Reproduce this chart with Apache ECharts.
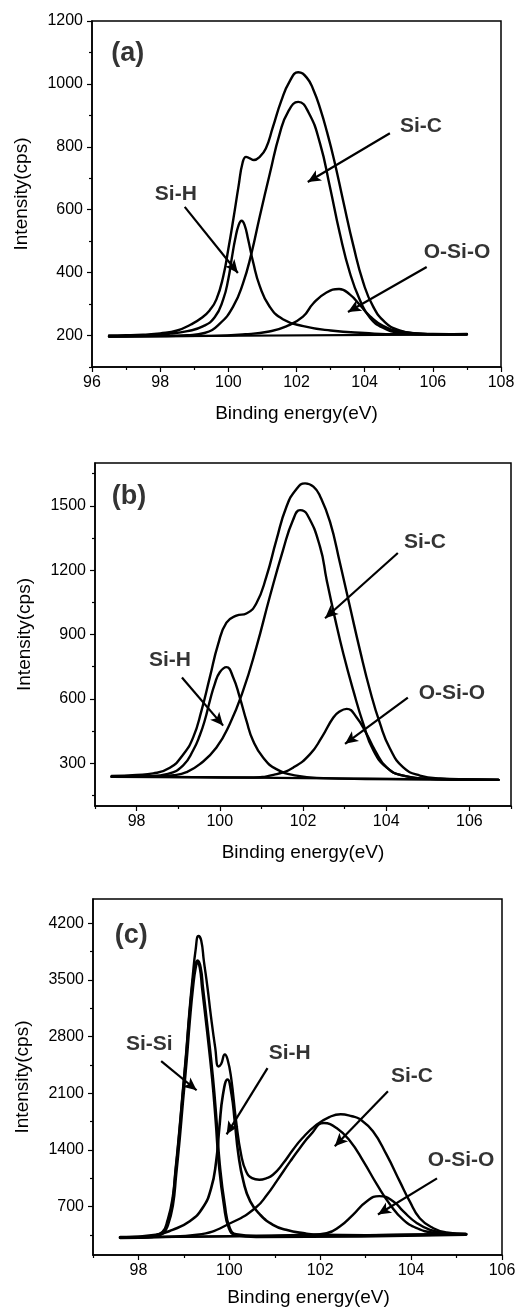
<!DOCTYPE html>
<html>
<head>
<meta charset="utf-8">
<script src="https://cdn.jsdelivr.net/npm/echarts@6/dist/echarts.min.js"></script>
<style>
html,body{margin:0;padding:0;background:#fff;}
#chart{width:520px;height:1310px;}
</style>
</head>
<body>
<div id="chart"></div>
<script>
// ---------- DATA ----------
// Panel (a)
const aBase = [[96.5,197],[107,204]];
const aEnvelope = [[96.5,200],[97.0,201],[97.5,203],[98.0,207],[98.5,216],[98.9,235],[99.2,255],[99.45,280],[99.65,315],[99.85,388],[100.0,475],[100.15,572],[100.3,675],[100.42,750],[100.52,768],[100.63,763],[100.75,758],[100.9,766],[101.1,795],[101.3,860],[101.55,945],[101.8,1008],[102.05,1037],[102.3,1020],[102.5,980],[102.7,920],[102.9,845],[103.1,760],[103.37,628],[103.67,485],[103.96,368],[104.25,292],[104.6,242],[105.0,217],[105.5,207],[106.2,204],[107,205]];
const aSiH = [[96.5,198],[97.5,200],[98.3,206],[98.8,214],[99.25,229],[99.6,258],[99.85,315],[100.0,380],[100.1,445],[100.2,506],[100.3,550],[100.39,565],[100.48,550],[100.58,506],[100.73,432],[100.92,358],[101.2,294],[101.6,252],[102.2,230],[103.0,216],[104,208],[105,204],[107,204]];
const aSiC = [[96.5,197],[98,198],[98.8,201],[99.3,208],[99.75,238],[100.14,292],[100.43,366],[100.68,462],[100.92,578],[101.22,716],[101.51,843],[101.76,913],[102.05,943],[102.35,910],[102.69,811],[102.98,673],[103.27,525],[103.57,398],[103.86,313],[104.16,256],[104.55,224],[105.03,209],[106,203],[107,204]];
const aOSiO = [[96.5,197],[99.5,199],[100.5,204],[101.2,213],[101.7,229],[102.19,260],[102.49,302],[102.88,337],[103.25,348],[103.57,330],[103.86,297],[104.16,261],[104.55,230],[105.03,213],[106,205],[107,204]];
const aXTicks = [96,98,100,102,104,106,108];
const aXMinor = [97,99,101,103,105,107];
const aYTicks = [200,400,600,800,1000,1200];
const aYMinor = [100,300,500,700,900,1100];

// Panel (b)
const bBase = [[97.4,238],[106.7,222]];
const bEnvelope = [[97.4,240],[98.0,245],[98.4,252],[98.8,278],[99.12,340],[99.36,420],[99.56,545],[99.76,700],[99.96,855],[100.16,955],[100.4,988],[100.64,998],[100.88,1046],[101.12,1170],[101.36,1340],[101.6,1495],[101.84,1578],[102.05,1605],[102.25,1590],[102.41,1545],[102.65,1425],[102.89,1232],[103.13,1028],[103.37,826],[103.61,640],[103.85,485],[104.09,368],[104.41,280],[104.81,242],[105.3,228],[106.0,224],[106.7,222]];
const bSiH = [[97.4,237],[98.3,240],[98.75,250],[99.12,290],[99.36,360],[99.52,430],[99.64,500],[99.76,590],[99.88,670],[100.0,724],[100.16,748],[100.32,701],[100.48,607],[100.64,498],[100.8,404],[101.04,326],[101.36,272],[101.84,242],[102.49,230],[103.5,226],[106.7,222]];
const bSiC = [[97.4,236],[98.4,238],[98.9,244],[99.2,258],[99.52,295],[99.92,373],[100.24,483],[100.56,638],[100.88,841],[101.2,1075],[101.52,1294],[101.76,1434],[101.93,1480],[102.1,1460],[102.41,1309],[102.57,1153],[102.77,974],[102.97,810],[103.21,638],[103.45,483],[103.69,360],[104.01,280],[104.41,242],[105.21,226],[106.7,222]];
const bOSiO = [[97.4,236],[99.5,234],[100.72,233],[101.37,249],[101.77,280],[102.17,342],[102.45,420],[102.73,513],[102.89,542],[103.05,553],[103.29,513],[103.53,436],[103.73,360],[104.01,280],[104.41,242],[105.21,226],[106.7,222]];
const bXTicks = [98,100,102,104,106];
const bXMinor = [97,99,101,103,105,107];
const bYTicks = [300,600,900,1200,1500];
const bYMinor = [150,450,750,1050,1350,1650];

// Panel (c)
const cBase = [[97.6,316],[105.2,357]];
const cEnvelope = [[97.6,318],[98.0,322],[98.31,337],[98.53,385],[98.64,530],[98.75,800],[98.82,1180],[98.9,1640],[98.97,2090],[99.05,2600],[99.12,3100],[99.19,3520],[99.26,3880],[99.32,4043],[99.38,3990],[99.44,3733],[99.52,3403],[99.59,3073],[99.69,2660],[99.76,2430],[99.82,2460],[99.9,2578],[99.96,2520],[100.04,2289],[100.15,1752],[100.26,1340],[100.37,1133],[100.5,1050],[100.66,1030],[100.8,1045],[100.96,1092],[101.18,1230],[101.4,1400],[101.6,1540],[101.92,1711],[102.2,1805],[102.45,1840],[102.7,1815],[102.87,1780],[103.16,1629],[103.46,1340],[103.75,1010],[103.97,762],[104.19,555],[104.49,431],[104.78,378],[105.22,357]];
const cSiSi = [[97.6,316],[98.02,318],[98.31,329],[98.53,370],[98.64,473],[98.75,721],[98.82,1092],[98.9,1546],[98.97,2000],[99.05,2495],[99.12,2990],[99.19,3403],[99.25,3650],[99.3,3733],[99.36,3650],[99.41,3403],[99.52,2867],[99.63,2289],[99.71,1752],[99.78,1216],[99.89,721],[100.0,432],[100.15,350],[100.59,329],[105.2,357]];
const cSiH = [[97.6,316],[98.38,350],[98.75,411],[99.12,514],[99.41,680],[99.6,927],[99.71,1257],[99.78,1670],[99.86,2083],[99.96,2270],[100.05,2083],[100.12,1752],[100.2,1340],[100.31,1010],[100.46,762],[100.68,597],[100.96,473],[101.25,411],[101.62,370],[101.99,350],[103,345],[105.2,357]];
const cSiC = [[97.6,316],[98.6,325],[99.29,350],[100.1,514],[100.59,690],[100.83,845],[101.05,1020],[101.34,1257],[101.55,1420],[101.79,1588],[102.08,1731],[102.36,1669],[102.66,1505],[102.95,1257],[103.25,969],[103.54,721],[103.83,535],[104.13,431],[104.49,378],[105.2,357]];
const cOSiO = [[97.6,316],[100.5,336],[101.77,350],[102.14,369],[102.43,452],[102.72,597],[103.02,762],[103.3,828],[103.61,762],[103.83,638],[104.13,493],[104.42,411],[104.78,370],[105.2,357]];
const cXTicks = [98,100,102,104,106];
const cXMinor = [97,99,101,103,105];
const cYTicks = [700,1400,2100,2800,3500,4200];
const cYMinor = [350,1050,1750,2450,3150,3850];

// ---------- annotations (in data coordinates) ----------
const aLabels = [[97.05,1097,'(a)',27],[105.65,866,'Si-C',21],[98.46,650,'Si-H',21],[106.71,466,'O-Si-O',21]];
const aArrows = [[104.74,843,102.33,688],[98.72,609,100.28,399],[105.82,418,103.51,275]];
const bLabels = [[97.82,1542,'(b)',27],[104.93,1331,'Si-C',21],[98.80,779,'Si-H',21],[105.58,624,'O-Si-O',21]];
const bArrows = [[104.28,1280,102.53,976],[99.09,699,100.08,475],[104.52,606,103.01,390]];
const cLabels = [[97.84,4043,'(c)',27],[98.24,2706,'Si-Si',21],[101.33,2594,'Si-H',21],[104.02,2310,'Si-C',21],[105.10,1270,'O-Si-O',21]];
const cArrows = [[98.50,2495,99.28,2136],[100.84,2409,99.94,1591],[103.49,2124,102.32,1443],[104.57,1047,103.27,601]];

const FONT = '"Liberation Sans", Arial, sans-serif';

const panels = [
  {grid:{left:92,top:21,width:409,height:346}, xmin:96, xmax:108, ymin:100, ymax:1200,
   xt:aXTicks, xm:aXMinor, yt:aYTicks, ym:aYMinor, base:aBase,
   curves:[aEnvelope,aSiH,aSiC,aOSiO], widths:[2.4,2.4,2.4,2.4], labels:aLabels, arrows:aArrows, xGap:37, xPad:0},
  {grid:{left:95,top:463,width:416,height:343}, xmin:97, xmax:107, ymin:100, ymax:1700,
   xt:bXTicks, xm:bXMinor, yt:bYTicks, ym:bYMinor, base:bBase,
   curves:[bEnvelope,bSiH,bSiC,bOSiO], widths:[2.4,2.4,2.4,2.4], labels:bLabels, arrows:bArrows, xGap:37, xPad:0},
  {grid:{left:93,top:899,width:409,height:356}, xmin:97, xmax:106, ymin:100, ymax:4500,
   xt:cXTicks, xm:cXMinor, yt:cYTicks, ym:cYMinor, base:cBase,
   curves:[cEnvelope,cSiSi,cSiH,cSiC,cOSiO], widths:[2.4,3.4,2.6,2.4,2.4], labels:cLabels, arrows:cArrows, xGap:33, xPad:22}
];

const grids=[], xAxes=[], yAxes=[], series=[];
const tickStyle = {color:'#000', width:1.2};
const plain = (v)=>String(v);
panels.forEach((p,i)=>{
  grids.push(Object.assign({show:true, borderColor:'#000', borderWidth:1.5, backgroundColor:'transparent'}, p.grid));
  xAxes.push({type:'value', gridIndex:i, min:p.xmin, max:p.xmax, position:'bottom',
    axisLine:{show:true, onZero:false, lineStyle:{color:'#000', width:1.5}},
    axisTick:{show:true, inside:false, length:5, customValues:p.xt, lineStyle:tickStyle},
    axisLabel:{customValues:p.xt, formatter:plain, color:'#000', fontSize:16, fontFamily:FONT, margin:8},
    splitLine:{show:false},
    name:'Binding energy(eV)', nameLocation:'middle', nameGap:p.xGap,
    nameTextStyle:{color:'#000', fontSize:19, fontFamily:FONT, padding:[0,0,0,p.xPad]}});
  xAxes.push({type:'value', gridIndex:i, min:p.xmin, max:p.xmax, position:'bottom',
    axisLine:{show:false, onZero:false},
    axisTick:{show:true, inside:false, length:3, customValues:p.xm, lineStyle:tickStyle},
    axisLabel:{show:false}, splitLine:{show:false}});
  yAxes.push({type:'value', gridIndex:i, min:p.ymin, max:p.ymax, position:'left',
    axisLine:{show:true, onZero:false, lineStyle:{color:'#000', width:1.5}},
    axisTick:{show:true, inside:false, length:5, customValues:p.yt, lineStyle:tickStyle},
    axisLabel:{customValues:p.yt, formatter:plain, color:'#000', fontSize:16, fontFamily:FONT, margin:9},
    splitLine:{show:false},
    name:'Intensity(cps)', nameLocation:'middle', nameRotate:90, nameGap:61,
    nameTextStyle:{color:'#000', fontSize:19, fontFamily:FONT}});
  yAxes.push({type:'value', gridIndex:i, min:p.ymin, max:p.ymax, position:'left',
    axisLine:{show:false, onZero:false},
    axisTick:{show:true, inside:false, length:3, customValues:p.ym, lineStyle:tickStyle},
    axisLabel:{show:false}, splitLine:{show:false}});
  const xi = 2*i, yi = 2*i;
  series.push({type:'line', xAxisIndex:xi, yAxisIndex:yi, data:p.base, showSymbol:false,
    lineStyle:{color:'#000', width:2.2}, silent:true,
    markLine:{silent:true, symbol:['none','arrow'], symbolSize:[9,13], animation:false,
      lineStyle:{color:'#000', width:2.2, type:'solid'}, label:{show:false},
      emphasis:{disabled:true},
      data:p.arrows.map(a=>[{coord:[a[0],a[1]]},{coord:[a[2],a[3]]}])}});
  p.curves.forEach((c,k)=>{
    series.push({type:'line', xAxisIndex:xi, yAxisIndex:yi, data:c, showSymbol:false,
      smooth:0.5, silent:true,
      lineStyle:{color:'#000', width:p.widths[k], join:'round', cap:'round'}});
  });
  series.push({type:'scatter', xAxisIndex:xi, yAxisIndex:yi, silent:true,
    data:p.labels.map(l=>({value:[l[0],l[1]], label:{fontSize:l[3]}, name:l[2]})),
    symbolSize:1, itemStyle:{color:'rgba(0,0,0,0)'},
    label:{show:true, position:'inside', formatter:(q)=>q.name, color:'#000',
      fontWeight:'bold', fontFamily:FONT}});
});

const chart = echarts.init(document.getElementById('chart'), null, {renderer:'canvas'});
chart.setOption({
  animation:false,
  backgroundColor:'#fff',
  grid:grids, xAxis:xAxes, yAxis:yAxes, series:series
});
</script>
</body>
</html>
